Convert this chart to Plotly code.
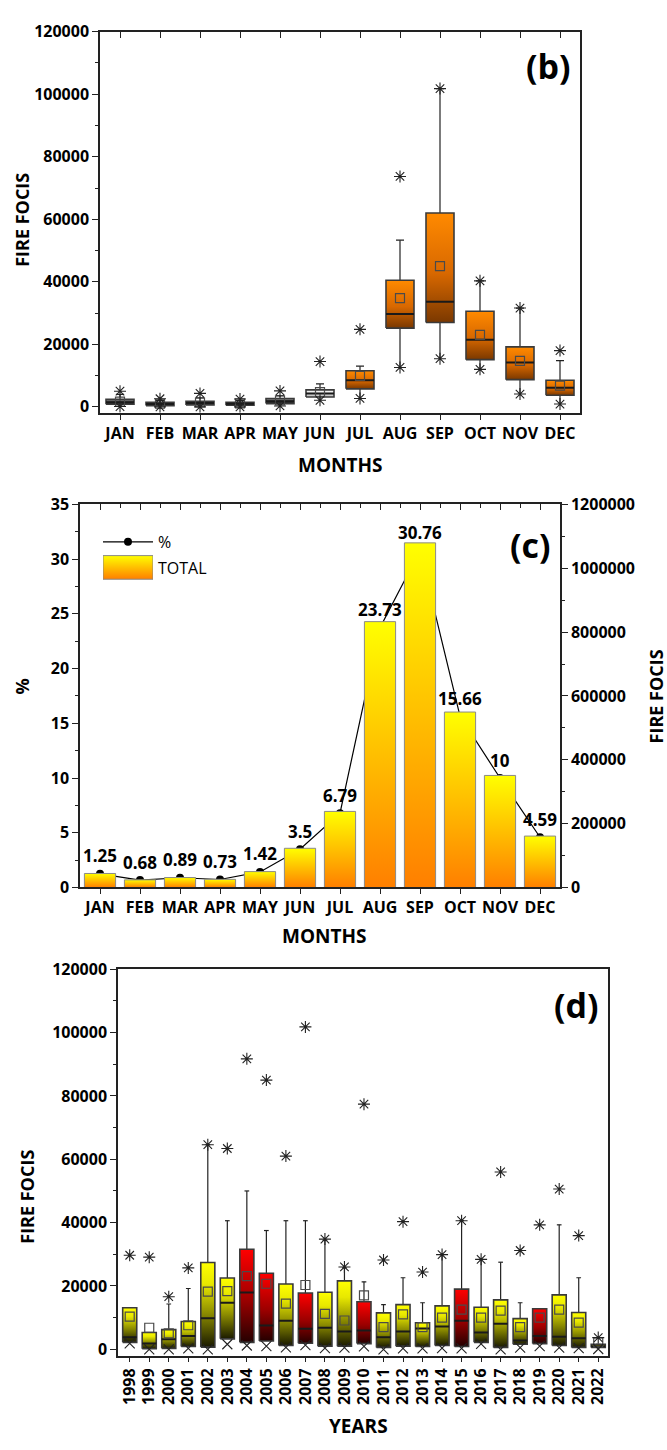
import plotly.graph_objects as go

FONT = "Open Sans"

# ---------------- (b) monthly fire foci distribution ----------------
months = ["JAN", "FEB", "MAR", "APR", "MAY", "JUN", "JUL", "AUG", "SEP", "OCT", "NOV", "DEC"]
b_q1 = [850, 400, 630, 500, 1050, 3150, 5770, 25200, 27000, 15100, 8700, 3700]
b_median = [1500, 950, 1200, 1000, 1800, 4300, 8500, 29700, 33600, 21500, 14200, 6100]
b_q3 = [2400, 1480, 1800, 1480, 2700, 5450, 11550, 40500, 62000, 30600, 19200, 8500]
b_mean = [1700, 1000, 1400, 1100, 2100, 4700, 9900, 34800, 45000, 23000, 14700, 6800]
b_whisk_hi = [4000, 2100, 2900, 2000, 3600, 7350, 13000, 53300, 101800, 40300, 31600, 14800]
b_whisk_lo = [300, 100, 100, 100, 400, 2200, 2700, 12600, 15400, 12000, 4100, 900]
b_star_hi = [5000, 2600, 4300, 2500, 5100, 14500, 24800, 73700, 101800, 40300, 31600, 18000]
b_star_lo = [100, 0, 0, 0, 300, 2100, 2700, 12600, 15400, 12000, 4100, 900]
b_group = ["grey", "grey", "grey", "grey", "grey", "white",
           "orange", "orange", "orange", "orange", "orange", "orange"]
foci_ticks = [0, 20000, 40000, 60000, 80000, 100000, 120000]

# ---------------- (c) monthly share and totals ----------------
c_pct = [1.25, 0.68, 0.89, 0.73, 1.42, 3.5, 6.79, 23.73, 30.76, 15.66, 10, 4.59]
c_total = [43900, 23900, 31200, 25600, 49800, 122800, 238300, 832800, 1079500, 549600, 351000, 161100]
pct_ticks = [0, 5, 10, 15, 20, 25, 30, 35]
total_ticks = [0, 200000, 400000, 600000, 800000, 1000000, 1200000]

# ---------------- (d) yearly distribution ----------------
years = [str(y) for y in range(1998, 2023)]
d_q1 = [2200, 200, 300, 900, 700, 3300, 2200, 2600, 1200, 1900, 1000, 1000, 1800,
        600, 1000, 900, 1200, 900, 2200, 600, 1600, 1800, 1200, 600, 600]
d_median = [3800, 1800, 3200, 4200, 9800, 14700, 17900, 7500, 9000, 6500, 6800, 5600, 5900,
            3800, 5600, 6600, 7200, 9000, 5300, 8100, 2800, 4200, 4000, 3500, 1000]
d_q3 = [13100, 5300, 6200, 8800, 27400, 22500, 31600, 24000, 20600, 17800, 18000, 21600, 15000,
        11500, 14100, 8400, 13700, 19000, 13300, 15600, 9700, 12800, 17200, 11600, 1600]
d_mean = [10300, 6800, 5000, 7600, 18200, 18400, 23100, 20700, 14400, 20300, 11200, 9100, 17000,
          7000, 11000, 7000, 10000, 12500, 10000, 12200, 7000, 10000, 12500, 8400, 2200]
d_whisk_hi = [13100, 5300, 14300, 19200, 64600, 40600, 50000, 37500, 40600, 40600, 34400, 25700,
              21300, 14100, 22600, 14700, 29900, 40600, 28400, 27500, 14700, 12800, 39300, 22600, 1600]
d_star_hi = [29700, 29100, 16600, 25700, 64600, 63400, 91700, 85000, 61000, 101800, 34800, 26000,
             77400, 28200, 40300, 24400, 29900, 40600, 28400, 56000, 31200, 39300, 50600, 35900, 3700]
d_min = [1900, 0, 0, 300, 0, 1600, 1200, 1000, 600, 1300, 400, 500, 900,
         0, 300, 300, 400, 300, 1700, 0, 500, 1000, 500, 400, 100]
d_group = ["yellow", "yellow", "yellow", "yellow", "yellow", "yellow", "red", "red", "yellow",
           "red", "yellow", "yellow", "red", "yellow", "yellow", "yellow", "yellow", "red",
           "yellow", "yellow", "yellow", "red", "yellow", "yellow", "yellow"]

# gradient fills, bottom -> top
SCALES = {
    "grey": [[0, "#1c1c1c"], [0.6, "#555555"], [1, "#9a9a9a"]],
    "white": [[0, "#b8b8b8"], [0.6, "#e8e8e8"], [1, "#ffffff"]],
    "orange": [[0, "#7a3800"], [0.45, "#d86800"], [1, "#ff8a00"]],
    "yellow": [[0, "#1a1a00"], [0.4, "#8c8c00"], [0.75, "#e8e800"], [1, "#ffff00"]],
    "red": [[0, "#250000"], [0.45, "#9a0000"], [1, "#ff0000"]],
    "bar": [[0, "#ff7f00"], [1, "#ffff00"]],
}

fig = go.Figure()


def add_boxes(xa, ya, n, q1, med, q3, mean, whi, wlo, star_hi, star_lo, groups,
              width, cap, lo_symbol):
    # whiskers with caps
    wx, wy = [], []
    for i in range(n):
        wx += [i, i, None, i - cap, i + cap, None]
        wy += [q3[i], whi[i], None, whi[i], whi[i], None]
        if wlo is not None:
            wx += [i, i, None]
            wy += [q1[i], wlo[i], None]
    fig.add_trace(go.Scatter(x=wx, y=wy, mode="lines", xaxis=xa, yaxis=ya,
                             line=dict(color="#222", width=1.2),
                             showlegend=False, hoverinfo="skip"))
    # gradient-filled boxes
    for i in range(n):
        h = width / 2
        fig.add_trace(go.Scatter(
            x=[i - h, i + h, i + h, i - h, i - h],
            y=[q1[i], q1[i], q3[i], q3[i], q1[i]],
            mode="lines", fill="toself",
            fillgradient=dict(type="vertical", colorscale=SCALES[groups[i]]),
            line=dict(color="#3a3a3a", width=1.6),
            xaxis=xa, yaxis=ya, showlegend=False, hoverinfo="skip"))
    # medians
    mx, my = [], []
    for i in range(n):
        mx += [i - width / 2, i + width / 2, None]
        my += [med[i], med[i], None]
    fig.add_trace(go.Scatter(x=mx, y=my, mode="lines", xaxis=xa, yaxis=ya,
                             line=dict(color="#1a1a1a", width=2),
                             showlegend=False, hoverinfo="skip"))
    idx = list(range(n))
    fig.add_trace(go.Scatter(x=idx, y=mean, mode="markers", xaxis=xa, yaxis=ya,
                             marker=dict(symbol="square-open", size=9, color="#4a4a4a",
                                         line=dict(width=1.2, color="#4a4a4a")),
                             showlegend=False, hoverinfo="skip"))
    fig.add_trace(go.Scatter(x=idx, y=star_hi, mode="markers", xaxis=xa, yaxis=ya,
                             marker=dict(symbol="asterisk-open", size=10, color="#222",
                                         line=dict(width=1.1, color="#222")),
                             showlegend=False, hoverinfo="skip"))
    fig.add_trace(go.Scatter(x=idx, y=star_lo, mode="markers", xaxis=xa, yaxis=ya,
                             marker=dict(symbol=lo_symbol, size=10, color="#222",
                                         line=dict(width=1.1, color="#222")),
                             showlegend=False, hoverinfo="skip"))


# (b)
add_boxes("x", "y", 12, b_q1, b_median, b_q3, b_mean, b_whisk_hi, b_whisk_lo,
          b_star_hi, b_star_lo, b_group, 0.7, 0.1, "asterisk-open")

# (c) percentage line (drawn under the bars)
fig.add_trace(go.Scatter(x=list(range(12)), y=c_pct, mode="lines+markers", name="%",
                         xaxis="x2", yaxis="y2",
                         line=dict(color="black", width=1.2),
                         marker=dict(color="black", size=8), hoverinfo="skip",
                         showlegend=False))
for i, v in enumerate(c_total):
    fig.add_trace(go.Scatter(
        x=[i - 0.39, i + 0.39, i + 0.39, i - 0.39, i - 0.39],
        y=[0, 0, v, v, 0], mode="lines", fill="toself",
        fillgradient=dict(type="vertical", colorscale=SCALES["bar"]),
        line=dict(color="#8a8a8a", width=1),
        name="TOTAL", showlegend=False,
        xaxis="x2", yaxis="y3", hoverinfo="skip"))

# (c) legend keys, drawn in a small hidden axis box
fig.add_trace(go.Scatter(x=[0, 0.5, 1], y=[0.78, 0.78, 0.78], mode="lines",
                         xaxis="x6", yaxis="y6", line=dict(color="black", width=1.2),
                         showlegend=False, hoverinfo="skip"))
fig.add_trace(go.Scatter(x=[0.5], y=[0.78], mode="markers", xaxis="x6", yaxis="y6",
                         marker=dict(color="black", size=8), showlegend=False, hoverinfo="skip"))
fig.add_trace(go.Scatter(x=[0, 1, 1, 0, 0], y=[0.02, 0.02, 0.5, 0.5, 0.02], mode="lines",
                         fill="toself", xaxis="x6", yaxis="y6",
                         fillgradient=dict(type="vertical", colorscale=SCALES["bar"]),
                         line=dict(color="#8a8a8a", width=1), showlegend=False, hoverinfo="skip"))

# (d)
add_boxes("x3", "y4", 25, d_q1, d_median, d_q3, d_mean, d_whisk_hi, None,
          d_star_hi, d_min, d_group, 0.72, 0.12, "x-thin-open")

# empty traces so the top tick-only axes are drawn
for xa, ya in (("x4", "y"), ("x5", "y2")):
    fig.add_trace(go.Scatter(x=[None], y=[None], xaxis=xa, yaxis=ya,
                             showlegend=False, hoverinfo="skip"))

tickfont = dict(family=FONT, size=16, color="black", weight="bold")
AX = dict(showgrid=False, zeroline=False, showline=True, linecolor="#222", linewidth=1.5,
          tickcolor="#222", tickwidth=1.3, tickfont=tickfont)


def bold(vals):
    return [f"<b>{v:g}</b>" if isinstance(v, float) else f"<b>{v}</b>" for v in vals]


def px_x(p):
    return p / 667


def px_y(p):
    return 1 - p / 1450


HIDDEN = dict(visible=False, showgrid=False, zeroline=False, fixedrange=True)

layout = dict(
    width=667, height=1450, margin=dict(l=0, r=0, t=0, b=0),
    paper_bgcolor="white", plot_bgcolor="white",
    font=dict(family=FONT, color="black"),
    showlegend=False,
    # (b)
    xaxis=dict(AX, domain=[px_x(100), px_x(580)], anchor="y", range=[-0.5, 11.5],
               tickmode="array", tickvals=list(range(12)), ticktext=bold(months),
               ticks="outside", ticklen=5, mirror=True),
    yaxis=dict(AX, domain=[px_y(408), px_y(21)], anchor="x", range=[-1900, 120000],
               tickmode="array", tickvals=foci_ticks, ticktext=bold(foci_ticks),
               ticks="outside", ticklen=6, mirror=True,
               minor=dict(ticks="outside", ticklen=3, tickmode="linear", tick0=0,
                          dtick=10000, tickcolor="#222")),
    xaxis4=dict(overlaying="x", side="top", anchor="y", range=[-0.5, 11.5],
                showgrid=False, zeroline=False, showline=False, showticklabels=False,
                tickmode="linear", tick0=0, dtick=1, ticks="inside", ticklen=6,
                tickcolor="#222", tickwidth=1.3),
    # (c)
    xaxis2=dict(AX, domain=[px_x(80), px_x(560)], anchor="y2", range=[-0.5, 11.5],
                tickmode="array", tickvals=list(range(12)), ticktext=bold(months),
                ticks="outside", ticklen=5, mirror=True),
    yaxis2=dict(AX, domain=[px_y(890), px_y(501)], anchor="x2", range=[0, 35],
                tickmode="array", tickvals=pct_ticks, ticktext=bold(pct_ticks),
                ticks="outside", ticklen=6,
                minor=dict(ticks="outside", ticklen=3, tickmode="linear", tick0=0,
                           dtick=2.5, tickcolor="#222")),
    yaxis3=dict(AX, overlaying="y2", side="right", anchor="x2", range=[0, 1200000],
                tickmode="array", tickvals=total_ticks, ticktext=bold(total_ticks),
                ticks="outside", ticklen=6,
                minor=dict(ticks="outside", ticklen=3, tickmode="linear", tick0=0,
                           dtick=100000, tickcolor="#222")),
    xaxis5=dict(overlaying="x2", side="top", anchor="y2", range=[-0.5, 11.5],
                showgrid=False, zeroline=False, showline=False, showticklabels=False,
                tickmode="linear", tick0=0, dtick=1, ticks="inside", ticklen=6,
                tickcolor="#222", tickwidth=1.3,
                minor=dict(ticks="inside", ticklen=4, dtick=0.5, tick0=0, tickcolor="#222")),
    xaxis6=dict(HIDDEN, domain=[px_x(103), px_x(153)], anchor="y6", range=[0, 1]),
    yaxis6=dict(HIDDEN, domain=[px_y(578), px_y(528)], anchor="x6", range=[0, 1]),
    # (d)
    xaxis3=dict(AX, domain=[px_x(118), px_x(608)], anchor="y4", range=[-0.6, 24.5],
                tickmode="array", tickvals=list(range(25)), ticktext=bold(years),
                tickangle=-90, ticks="outside", ticklen=4, mirror=True,
                tickfont=dict(family=FONT, size=16, color="black", weight="bold")),
    yaxis4=dict(AX, domain=[px_y(1366), px_y(973)], anchor="x3", range=[-2200, 120000],
                tickmode="array", tickvals=foci_ticks, ticktext=bold(foci_ticks),
                ticks="outside", ticklen=6, mirror=True,
                minor=dict(ticks="outside", ticklen=3, tickmode="linear", tick0=0,
                           dtick=10000, tickcolor="#222")),
)
fig.update_layout(**layout)


def note(text, x, y, size, angle=0, ref=("paper", "paper"), yshift=0, weight="bold",
         xanchor="center"):
    fig.add_annotation(text=text, x=x, y=y, xref=ref[0], yref=ref[1], showarrow=False,
                       textangle=angle, yshift=yshift, xanchor=xanchor, yanchor="middle",
                       font=dict(family=FONT, size=size, color="black", weight=weight))


# axis titles and panel letters
note("FIRE FOCIS", px_x(22), px_y(212), 18, -90)
note("MONTHS", px_x(340), px_y(461), 19)
note("(b)", px_x(548), px_y(56), 34)

note("%", px_x(22), px_y(686), 18, -90)
note("FIRE FOCIS", px_x(656), px_y(696), 18, -90)
note("MONTHS", px_x(324), px_y(939), 19)
note("(c)", px_x(530), px_y(542), 34)

note("FIRE FOCIS", px_x(27), px_y(1204), 18, -90)
note("YEARS", px_x(358), px_y(1437), 19)
note("(d)", px_x(576), px_y(1009), 34)

# legend labels for (c)
note("%", px_x(156), px_y(539), 16, weight="normal", xanchor="left")
note("TOTAL", px_x(156), px_y(566), 16, weight="normal", xanchor="left")

# percentage labels above each point
for i, v in enumerate(c_pct):
    note(f"{v:g}", i, v, 17, ref=("x2", "y2"), yshift=18)

fig.write_html("out.html")
